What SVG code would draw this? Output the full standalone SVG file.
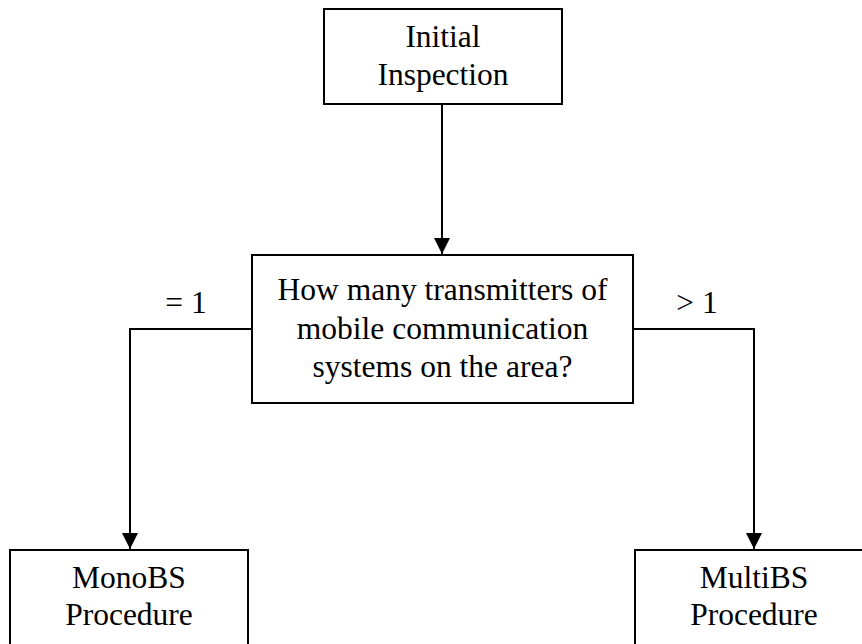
<svg xmlns="http://www.w3.org/2000/svg" width="862" height="644" viewBox="0 0 862 644">
<style>
.box{fill:#fff;stroke:#000;stroke-width:2}
.t{font-size:31.5px;fill:#000;text-anchor:middle}
.c{fill:none;stroke:#000;stroke-width:2}
</style>
<defs>
<marker id="ah" markerUnits="userSpaceOnUse" markerWidth="18" markerHeight="16" refX="16" refY="8" orient="auto">
<path d="M0,0 L16,8 L0,16 Z" fill="#000"/>
</marker>
</defs>
<rect width="862" height="644" fill="#fff"/>
<g font-family="Liberation Serif, Times New Roman, DejaVu Serif, serif">
<g id="connectors">
<path class="c" d="M442,105 L442,254" marker-end="url(#ah)"/>
<path class="c" d="M252,329 L130,329 L130,549" marker-end="url(#ah)"/>
<path class="c" d="M633,329 L754,329 L754,549" marker-end="url(#ah)"/>
<text class="t" x="186" y="313">= 1</text>
<text class="t" x="697" y="313">&gt; 1</text>
</g>
<g id="initial">
<rect class="box" x="324" y="9" width="238" height="95"/>
<text class="t" x="443" y="47">Initial</text>
<text class="t" x="443" y="85">Inspection</text>
</g>
<g id="question">
<rect class="box" x="252" y="255" width="381" height="148"/>
<text class="t" x="442.5" y="300">How many transmitters of</text>
<text class="t" x="442.5" y="338.5">mobile communication</text>
<text class="t" x="442.5" y="377">systems on the area?</text>
</g>
<g id="mono">
<rect class="box" x="10" y="550" width="238" height="110"/>
<text class="t" x="129" y="588">MonoBS</text>
<text class="t" x="129" y="625">Procedure</text>
</g>
<g id="multi">
<rect class="box" x="635" y="550" width="240" height="110"/>
<text class="t" x="754" y="588">MultiBS</text>
<text class="t" x="754" y="625">Procedure</text>
</g>
</g>
</svg>
